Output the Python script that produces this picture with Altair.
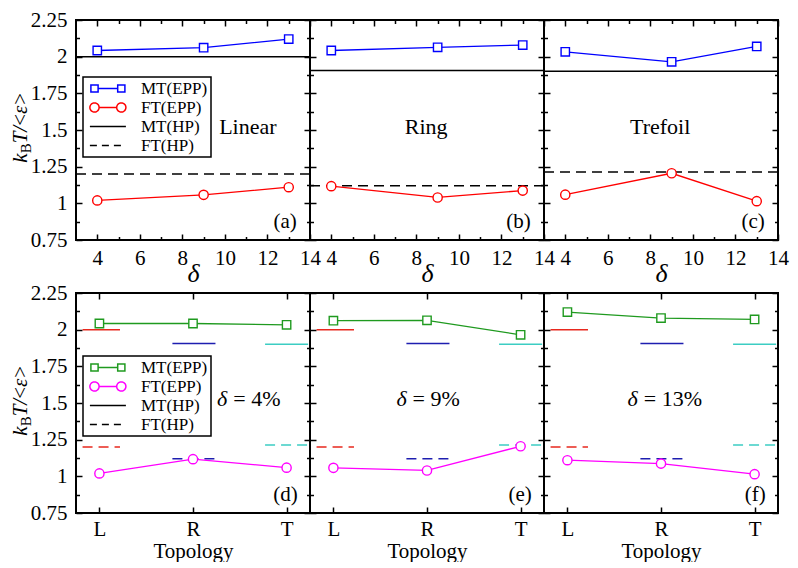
import altair as alt
import pandas as pd

# ------------------------------------------------------------------ data
delta = [4, 9, 13]
topologies = ["Linear", "Ring", "Trefoil"]
topo_short = ["L", "R", "T"]
topo_index = [0, 1, 2]

mt_epp_linear = [2.042, 2.061, 2.120]
mt_epp_ring = [2.042, 2.064, 2.079]
mt_epp_trefoil = [2.033, 1.965, 2.070]
ft_epp_linear = [1.020, 1.058, 1.110]
ft_epp_ring = [1.117, 1.040, 1.087]
ft_epp_trefoil = [1.059, 1.205, 1.015]
mt_hp = [2.000, 1.905, 1.900]
ft_hp = [1.200, 1.120, 1.213]
hp_seg_start = [-0.18, 0.78, 1.77]
hp_seg_end = [0.22, 1.24, 2.23]

series_names = ["MT(EPP)", "FT(EPP)", "MT(HP)", "FT(HP)"]
panel_tags = ["(a)", "(b)", "(c)", "(d)", "(e)", "(f)"]
delta_labels = ["= 4%", "= 9%", "= 13%"]

x_major_top = [4, 6, 8, 10, 12, 14]
x_minor_top = [5, 7, 9, 11, 13]
x_major_bottom = [0, 1, 2]
y_major = [0.75, 1.0, 1.25, 1.5, 1.75, 2.0, 2.25]
y_minor = [0.875, 1.125, 1.375, 1.625, 1.875, 2.125]

# annotation anchors (data coordinates)
name_x = [11.08, 8.46, 8.46]
name_y = 1.52
delta_split_x = [1.377, 0.793, 0.762]
delta_label_y = 1.53
tag_x_top = 13.38
tag_x_bottom = 2.12
tag_y = 0.875

mt_epp = [mt_epp_linear, mt_epp_ring, mt_epp_trefoil]
ft_epp = [ft_epp_linear, ft_epp_ring, ft_epp_trefoil]

# ------------------------------------------------------------------ style
FONT = "Liberation Serif"
W, H_TOP, H_BOT = 234, 220, 220
Y_DOMAIN = [0.75, 2.25]
X_TOP_DOMAIN = [3, 14]
X_BOT_DOMAIN = [-0.25, 2.25]
BLUE, RED = "#0000ff", "#ff0000"
GREEN, MAGENTA = "#1f9a1f", "#ff00ff"
HP_COLORS = ["#e8281e", "#1e1eb0", "#3ccdc3"]
DASH = [10, 6]

LEGEND_PATHS = [
    "M-0.9,-0.9H0.9V0.9H-0.9Z M0.9,0H5.8 M5.8,-0.9H7.6V0.9H5.8Z",
    "M-1.15,0A1.15,1.15 0 1 1 1.15,0A1.15,1.15 0 1 1 -1.15,0Z M1.15,0H5.55 "
    "M5.55,0A1.15,1.15 0 1 1 7.85,0A1.15,1.15 0 1 1 5.55,0Z",
    "M-1.15,0H7.85",
    "M-1.15,0H7.85",
]
LEGEND_DASH = [[1, 0], [1, 0], [1, 0], [7, 5]]

one = pd.DataFrame({"a": [1]})
dummy = pd.DataFrame({"x": [0.0], "y": [0.0]})


def ys():
    return alt.Scale(domain=Y_DOMAIN, nice=False, zero=False)


def xs(dom):
    return alt.Scale(domain=dom, nice=False, zero=False)


def tick_axis(orient, offset, vals, size):
    return alt.Axis(orient=orient, offset=offset, values=vals, ticks=True, tickSize=size,
                    tickWidth=1.5, tickColor="black", labels=False, domain=False,
                    grid=False, title=None)


def axis_layers(xdom, h, xmajor, xminor, ylabels, xtitle, xtitle_style, xtitle_size,
                xlabel_pad, xtitle_pad, xlabel_expr=None):
    base = alt.Chart(dummy).mark_point(opacity=0).transform_filter("false")
    kw = dict(orient="bottom", values=xmajor, ticks=False, domain=False, grid=False,
              labels=True, labelFont=FONT, labelFontSize=21, labelColor="black",
              labelPadding=xlabel_pad, labelOverlap=False, labelFlush=False, labelAngle=0,
              title=xtitle, titleFont=FONT, titleFontSize=xtitle_size,
              titleFontStyle=xtitle_style, titleFontWeight="normal", titleColor="black",
              titleBaseline="alphabetic", titlePadding=xtitle_pad)
    if xlabel_expr:
        kw["labelExpr"] = xlabel_expr
    xlab = alt.Axis(**kw)
    if ylabels:
        ylab = alt.Axis(orient="left", values=y_major, ticks=False, domain=False, grid=False,
                        labels=True, labelFont=FONT, labelFontSize=21, labelColor="black",
                        labelPadding=9, labelOverlap=False, format=".3~g", title=None)
    else:
        ylab = None
    layers = [base.encode(x=alt.X("x:Q", scale=xs(xdom), axis=xlab),
                          y=alt.Y("y:Q", scale=ys(), axis=ylab))]
    specs = [("top", "right", xmajor, y_major, 6), ("bottom", "left", xmajor, y_major, 6),
             ("top", "right", xminor, y_minor, 3.5), ("bottom", "left", xminor, y_minor, 3.5)]
    for xo, yo, xv, yv, size in specs:
        xa = tick_axis(xo, -h, xv, size) if xv else None
        ya = tick_axis(yo, -W, yv, size)
        layers.append(base.encode(x=alt.X("x:Q", scale=xs(xdom), axis=xa),
                                  y=alt.Y("y:Q", scale=ys(), axis=ya)))
    return layers


def ytitle_layers(h):
    parts = [("k", "italic", 21, 0.444, 0), ("B", "normal", 15, 0.667, 4),
             ("T", "italic", 21, 0.556, 0), ("/", "italic", 21, 0.278, 0),
             ("<", "normal", 21, 0.564, 0), ("\u03b5", "italic", 21, 0.44, 0),
             (">", "normal", 21, 0.564, 0)]
    total = sum(s * w for _, _, s, w, _ in parts)
    pos = h * 0.49 + total / 2
    out = []
    for t, style, size, w, shift in parts:
        out.append(alt.Chart(one).mark_text(text=t, font=FONT, fontSize=size, fontStyle=style,
                                            angle=270, align="left", baseline="alphabetic",
                                            color="black")
                   .encode(x=alt.value(-49 + shift), y=alt.value(pos)))
        pos -= size * w
    return out


def legend_layer(colors, ly):
    leg = pd.DataFrame({"series": series_names})
    lg = alt.Legend(title=None, orient="none", legendX=7, legendY=ly, labelFont=FONT,
                    labelFontSize=17, labelColor="black", symbolSize=64,
                    symbolStrokeWidth=1.5, labelOffset=38, padding=3, rowPadding=1,
                    strokeColor="black")
    return alt.Chart(leg).mark_point(filled=False, opacity=1, strokeWidth=1.5).encode(
        stroke=alt.Stroke("series:N", scale=alt.Scale(domain=series_names, range=colors), legend=lg),
        shape=alt.Shape("series:N", scale=alt.Scale(domain=series_names, range=LEGEND_PATHS), legend=lg),
        strokeDash=alt.StrokeDash("series:N", scale=alt.Scale(domain=series_names, range=LEGEND_DASH), legend=lg),
    ).transform_filter("false")


def epp_layers(df, xdom, c_mt, c_ft):
    X = alt.X("x:Q", scale=xs(xdom), axis=None)
    out = []
    for field, col, shape, size in [("mt", c_mt, "square", 70), ("ft", c_ft, "circle", 85)]:
        Y = alt.Y(f"{field}:Q", scale=ys(), axis=None)
        out.append(alt.Chart(df).mark_line(color=col, strokeWidth=1.3).encode(x=X, y=Y))
        out.append(alt.Chart(df).mark_point(shape=shape, size=size, filled=True, fill="white",
                                            stroke=col, strokeWidth=1.4, opacity=1)
                   .encode(x=X, y=Y))
    return out


def text_layer(x, y, txt, xdom, size=22, align="center", style="normal", dx=0):
    return alt.Chart(one).mark_text(text=txt, font=FONT, fontSize=size, fontStyle=style,
                                    align=align, baseline="middle", color="black", dx=dx
                                    ).encode(x=alt.X("xx:Q", scale=xs(xdom), axis=None),
                                             y=alt.Y("yy:Q", scale=ys(), axis=None)
                                             ).transform_calculate(xx=str(x), yy=str(y))


def top_panel(i):
    dom = X_TOP_DOMAIN
    df = pd.DataFrame({"x": delta, "mt": mt_epp[i], "ft": ft_epp[i]})
    hp = pd.DataFrame({"mt": [mt_hp[i]], "ft": [ft_hp[i]]})
    layers = axis_layers(dom, H_TOP, x_major_top, x_minor_top, i == 0, "\u03b4", "italic", 26,
                         7, 13)
    layers.append(alt.Chart(hp).mark_rule(color="black", strokeWidth=1.5)
                  .encode(y=alt.Y("mt:Q", scale=ys(), axis=None)))
    layers.append(alt.Chart(hp).mark_rule(color="black", strokeWidth=1.5, strokeDash=DASH)
                  .encode(y=alt.Y("ft:Q", scale=ys(), axis=None)))
    layers += epp_layers(df, dom, BLUE, RED)
    layers.append(text_layer(name_x[i], name_y, topologies[i], dom))
    layers.append(text_layer(tag_x_top, tag_y, panel_tags[i], dom, size=21, align="right"))
    if i == 0:
        layers += ytitle_layers(H_TOP)
        layers.append(legend_layer([BLUE, RED, "black", "black"], 57))
    return alt.layer(*layers).resolve_axis(x="independent", y="independent").properties(
        width=W, height=H_TOP)


def bottom_panel(j):
    dom = X_BOT_DOMAIN
    df = pd.DataFrame({"x": topo_index, "mt": [m[j] for m in mt_epp], "ft": [f[j] for f in ft_epp]})
    seg = pd.DataFrame({"topo": topo_short, "x0": hp_seg_start, "x1": hp_seg_end,
                        "mt": mt_hp, "ft": ft_hp})
    expr = "[" + ",".join(f"'{t}'" for t in topo_short) + "][datum.value]"
    layers = axis_layers(dom, H_BOT, x_major_bottom, [], j == 0, "Topology", "normal", 21,
                         5, 18, xlabel_expr=expr)
    col = alt.Color("topo:N", scale=alt.Scale(domain=topo_short, range=HP_COLORS), legend=None)
    X0 = alt.X("x0:Q", scale=xs(dom), axis=None)
    layers.append(alt.Chart(seg).mark_rule(strokeWidth=1.5)
                  .encode(x=X0, x2="x1:Q", y=alt.Y("mt:Q", scale=ys(), axis=None), color=col))
    layers.append(alt.Chart(seg).mark_rule(strokeWidth=1.5, strokeDash=DASH)
                  .encode(x=X0, x2="x1:Q", y=alt.Y("ft:Q", scale=ys(), axis=None), color=col))
    layers += epp_layers(df, dom, GREEN, MAGENTA)
    layers.append(text_layer(delta_split_x[j], delta_label_y, "\u03b4", dom, align="right",
                             style="italic", dx=-1))
    layers.append(text_layer(delta_split_x[j], delta_label_y, delta_labels[j], dom, align="left",
                             dx=5))
    layers.append(text_layer(tag_x_bottom, tag_y, panel_tags[3 + j], dom, size=21, align="right"))
    if j == 0:
        layers += ytitle_layers(H_BOT)
        layers.append(legend_layer([GREEN, MAGENTA, "black", "black"], 63))
    return alt.layer(*layers).resolve_axis(x="independent", y="independent").properties(
        width=W, height=H_BOT)


indep = dict(stroke="independent", shape="independent", strokeDash="independent",
             color="independent")

panels = [top_panel(i) for i in range(3)] + [bottom_panel(j) for j in range(3)]

chart = alt.concat(*panels, columns=3, spacing={"row": 53, "column": 0}, bounds="flush").resolve_scale(
    x="independent", y="independent", **indep
).properties(padding=0, background="white").configure_view(
    stroke="black", strokeWidth=2
).configure_legend(strokeWidth=1.5)

chart.save("out.html", embed_options={"renderer": "svg", "actions": False})
